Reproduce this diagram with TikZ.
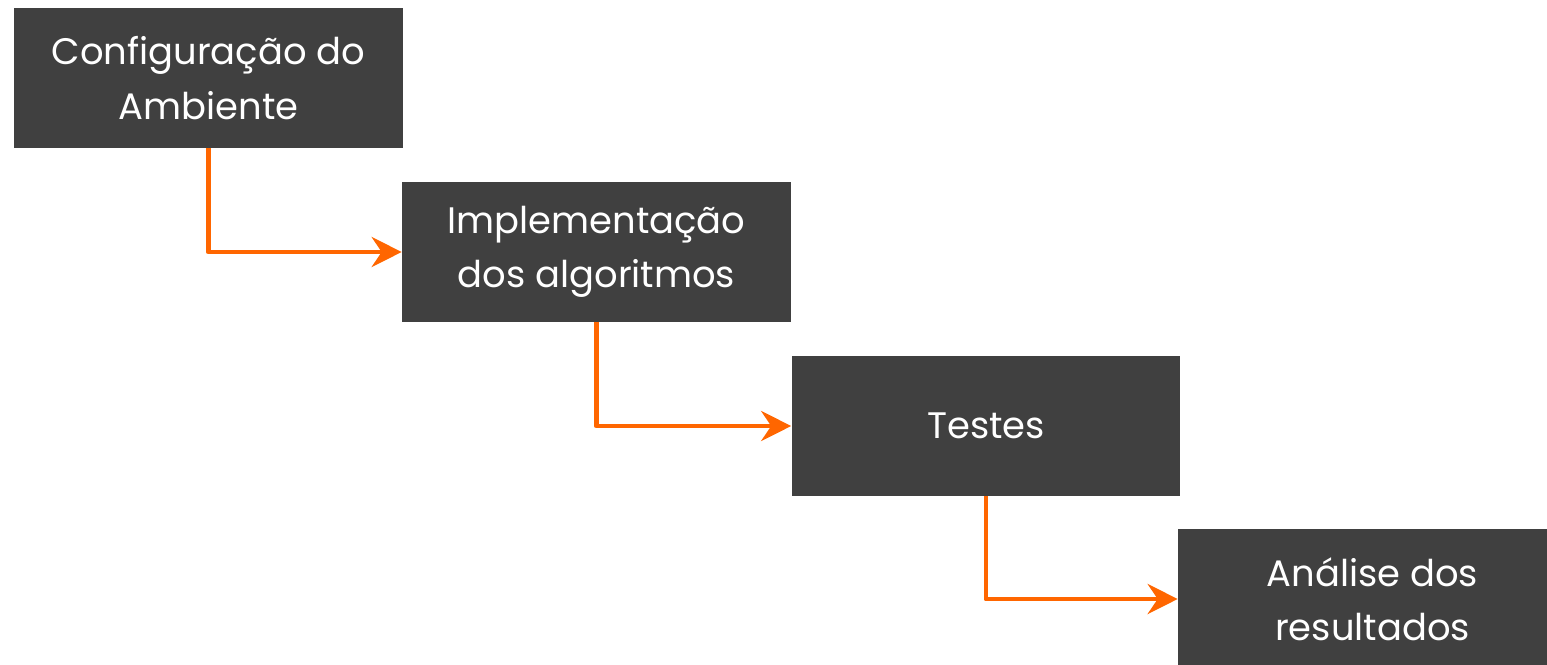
\documentclass[tikz,border=0pt]{standalone}
\usepackage{fontspec}
\setmainfont{Poppins}
\usepackage{tikz}
\usetikzlibrary{arrows.meta}
\definecolor{boxgray}{HTML}{404040}
\definecolor{flowarrow}{HTML}{FF6600}
\tikzset{
  stagebox/.style={fill=boxgray,text=white,minimum width=7.78cm,minimum height=2.8cm,
    inner sep=0pt,align=center,font=\fontsize{21}{31}\selectfont},
  flow/.style={flowarrow,line width=2.8pt,line join=round,
    -{Stealth[length=0.6cm,width=0.6cm,inset=0.2cm]}}
}
\begin{document}
\begin{tikzpicture}[x=0.02cm,y=-0.02cm]
\useasboundingbox (0,0) rectangle (1547,664);
\clip (0,0) rectangle (1547,664);
% stages
\node[stagebox] (config) at (208.5,78) {Configuração do\\Ambiente};
\node[stagebox] (impl) at (596.5,252) {Implementação\\dos algoritmos};
\node[stagebox] (tests) at (986,426) {Testes};
\node[stagebox] (analysis) at (1372.5,599) {Análise dos\\resultados};
% connectors
\draw[flow] (config.south) |- (impl.west);
\draw[flow] (impl.south) |- (tests.west);
\draw[flow] (tests.south) |- (analysis.west);
\end{tikzpicture}
\end{document}
